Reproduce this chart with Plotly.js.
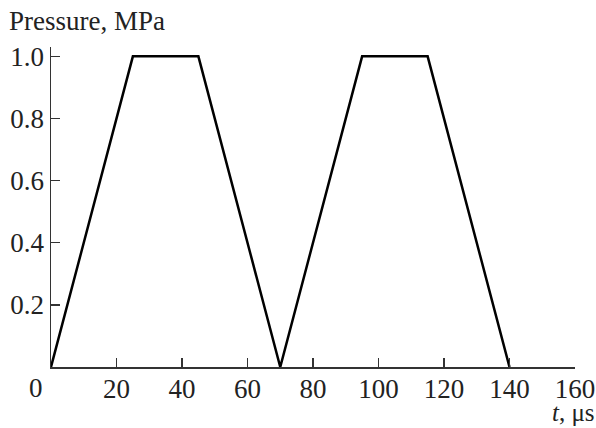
<!DOCTYPE html>
<html><head><meta charset="utf-8">
<script src="https://cdn.plot.ly/plotly-3.0.1.min.js"></script>
<style>html,body{margin:0;padding:0;background:#fff}#chart{width:596px;height:428px}</style>
</head><body><div id="chart"></div>
<script>
// Data
const timeUs = [0, 25, 45, 70, 95, 115, 140];
const pressureMPa = [0, 1.0, 1.0, 0, 1.0, 1.0, 0];
const xTickVals = [20, 40, 60, 80, 100, 120, 140, 160];
const xTickText = ["20", "40", "60", "80", "100", "120", "140", "160"];
const yTickVals = [0.2, 0.4, 0.6, 0.8, 1.0];
const yTickText = ["0.2", "0.4", "0.6", "0.8", "1.0"];
const originLabel = "0";
const yTitle = "Pressure, MPa";
const xTitle = "<i>t</i>, μs";

const FONT = "Liberation Serif, Times New Roman, serif";
const FS = 27;
const TXT = "#222";

const trace = {
  x: timeUs, y: pressureMPa, type: "scatter", mode: "lines",
  line: {color: "#000", width: 2.5}, hoverinfo: "skip"
};

const layout = {
  width: 596, height: 428,
  margin: {l: 51, r: 21, t: 47, b: 60.5, pad: 0},
  paper_bgcolor: "#fff", plot_bgcolor: "#fff",
  showlegend: false,
  font: {family: FONT, size: FS, color: TXT},
  title: {text: yTitle, x: 9/596, xanchor: "left", xref: "container", y: 1 - 21/428, yanchor: "middle", yref: "container",
          font: {family: FONT, size: FS, color: TXT}},
  xaxis: {
    range: [0, 160], showgrid: false, zeroline: false,
    showline: true, linecolor: "#333", linewidth: 1.5,
    ticks: "inside", ticklen: 9, tickwidth: 1.5, tickcolor: "#333",
    tickvals: xTickVals, ticktext: xTickText, ticklabelstandoff: -3,
    tickfont: {family: FONT, size: FS, color: TXT}
  },
  yaxis: {
    range: [0, 1.03], showgrid: false, zeroline: false,
    showline: true, linecolor: "#333", linewidth: 1.5,
    ticks: "inside", ticklen: 9, tickwidth: 1.5, tickcolor: "#333",
    tickvals: yTickVals, ticktext: yTickText,
    tickfont: {family: FONT, size: FS, color: TXT}
  },
  annotations: [
    {text: originLabel, xref: "paper", yref: "paper", x: (36-51)/524, y: 0, xanchor: "center", yanchor: "top",
     yshift: -4, showarrow: false, font: {family: FONT, size: FS, color: TXT}},
    {text: xTitle, xref: "paper", yref: "paper", x: (596-51)/524, y: 0, xanchor: "right", yanchor: "top",
     yshift: -31, showarrow: false, borderpad: 0, font: {family: FONT, size: 25, color: TXT}}
  ]
};

Plotly.newPlot("chart", [trace], layout, {staticPlot: true, displayModeBar: false});
</script>
</body></html>
